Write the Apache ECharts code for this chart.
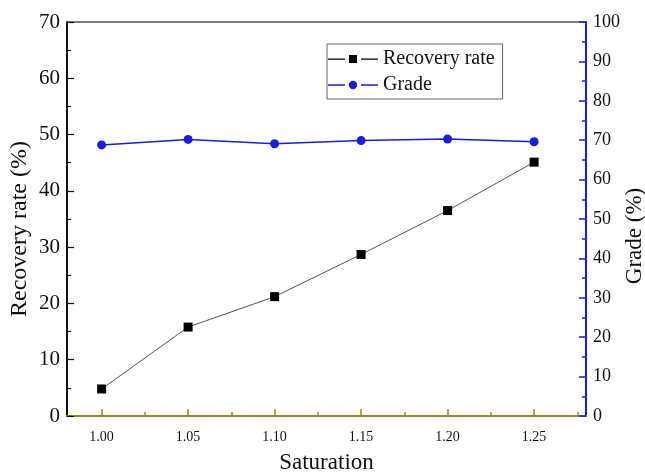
<!DOCTYPE html>
<html>
<head>
<meta charset="utf-8">
<script src="https://cdn.jsdelivr.net/npm/echarts@6/dist/echarts.min.js"></script>
<style>
html,body{margin:0;padding:0;background:#fff;}
#main{width:645px;height:472px;}
</style>
</head>
<body>
<div id="main"></div>
<script>
// data
var saturation = [1.00, 1.05, 1.10, 1.15, 1.20, 1.25];
var recoveryRate = [4.8, 15.8, 21.2, 28.7, 36.5, 45.1];
var grade = [68.8, 70.2, 69.1, 69.9, 70.3, 69.6];
var xMajorTicks = [1.00, 1.05, 1.10, 1.15, 1.20, 1.25];
var xMinorTicks = [1.025, 1.075, 1.125, 1.175, 1.225, 1.275];

var serif = "'Liberation Serif','Times New Roman',serif";
var olive = "#8c8c28";
var blue = "#1c1cdc";

// legend icons: line - marker - line
var iconRect = "path://M0,3.9H17V5.3H0Z M21,0.5H29V8.5H21Z M33,3.9H50V5.3H33Z";
var iconDot = "path://M0,3.9H17V5.3H0Z M20.8,4.6A4.2,4.2 0 1 1 29.2,4.6A4.2,4.2 0 1 1 20.8,4.6Z M33,3.9H50V5.3H33Z";

function pairs(xs, ys){
    var out = [];
    for(var i = 0; i < xs.length; i++){
        out.push([xs[i], ys[i]]);
    }
    return out;
}

var myChart = echarts.init(document.getElementById("main"));

var option = {
    backgroundColor : "#fff",
    animation : false,
    grid : {
        left : 67, right : 59, top : 22, bottom : 56,
        outerBoundsMode : "none", containLabel : false,
        show : true, borderColor : "#000", borderWidth : 1.2
    },
    legend : {
        left : 327, top : 44,
        orient : "vertical",
        itemWidth : 50, itemHeight : 9, itemGap : 4,
        padding : [4, 8, 3, 1],
        borderColor : "#666", borderWidth : 1,
        backgroundColor : "#fff",
        textStyle : {fontFamily : serif, fontSize : 20, color : "#111", lineHeight : 22},
        data : [
            {name : "Recovery rate", icon : iconRect, itemStyle : {color : "#000"}},
            {name : "Grade", icon : iconDot, itemStyle : {color : blue}}
        ]
    },
    xAxis : [
        {
            type : "value", min : 0.98, max : 1.28,
            name : "Saturation", nameLocation : "middle", nameGap : 35, nameMoveOverlap : false,
            nameTextStyle : {fontFamily : serif, fontSize : 23, color : "#111"},
            axisLine : {lineStyle : {color : olive, width : 2}},
            axisTick : {inside : true, length : 7, customValues : xMajorTicks, lineStyle : {color : olive, width : 1.5}},
            axisLabel : {
                customValues : xMajorTicks, margin : 14,
                fontFamily : serif, fontSize : 14, color : "#111",
                formatter : function(v){ return v.toFixed(2); }
            },
            splitLine : {show : false}
        },
        {
            type : "value", min : 0.98, max : 1.28, position : "bottom",
            axisLine : {show : false},
            axisTick : {inside : true, length : 4, customValues : xMinorTicks, lineStyle : {color : olive, width : 1.5}},
            axisLabel : {show : false},
            splitLine : {show : false}
        }
    ],
    yAxis : [
        {
            type : "value", min : 0, max : 70, interval : 10, position : "left",
            name : "Recovery rate (%)", nameLocation : "middle", nameGap : 35, nameRotate : 90, nameMoveOverlap : false,
            nameTextStyle : {fontFamily : serif, fontSize : 24, color : "#111", padding : [0, 20, 0, 0]},
            axisLine : {show : true, lineStyle : {color : "#111", width : 2}},
            axisTick : {inside : true, length : 7, lineStyle : {color : "#111", width : 1.2}},
            minorTick : {show : true, splitNumber : 2, length : 4, lineStyle : {color : "#111", width : 1.2}},
            axisLabel : {margin : 7, fontFamily : serif, fontSize : 21, color : "#111"},
            splitLine : {show : false}
        },
        {
            type : "value", min : 0, max : 100, interval : 10, position : "right",
            name : "Grade (%)", nameLocation : "middle", nameGap : 37, nameRotate : 90, nameMoveOverlap : false,
            nameTextStyle : {fontFamily : serif, fontSize : 23, color : "#111", padding : [0, 34, 0, 0]},
            axisLine : {show : true, lineStyle : {color : blue, width : 2}},
            axisTick : {inside : true, length : 7, lineStyle : {color : blue, width : 1.5}},
            minorTick : {show : true, splitNumber : 2, length : 4, lineStyle : {color : blue, width : 1.5}},
            axisLabel : {margin : 7, fontFamily : serif, fontSize : 18, color : "#111"},
            splitLine : {show : false}
        }
    ],
    series : [
        {
            name : "Recovery rate", type : "line", yAxisIndex : 0,
            data : pairs(saturation, recoveryRate),
            symbol : "rect", symbolSize : 9,
            itemStyle : {color : "#000"},
            lineStyle : {color : "#555", width : 1}
        },
        {
            name : "Grade", type : "line", yAxisIndex : 1,
            data : pairs(saturation, grade),
            symbol : "circle", symbolSize : 9,
            itemStyle : {color : blue},
            lineStyle : {color : blue, width : 1.5}
        }
    ]
};

myChart.setOption(option);
</script>
</body>
</html>
